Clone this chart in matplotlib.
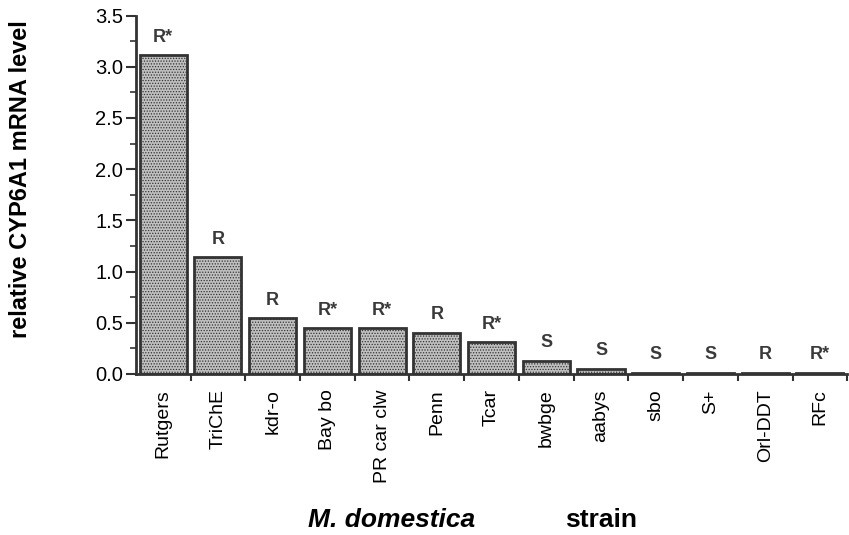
import matplotlib
matplotlib.use("Agg")
import matplotlib.pyplot as plt
from matplotlib.ticker import MultipleLocator, FixedLocator
import numpy as np

plt.rcParams['font.family'] = ['Liberation Sans', 'DejaVu Sans']
plt.rcParams['hatch.color'] = '#555555'
plt.rcParams['hatch.linewidth'] = 0.6

strains = ["Rutgers", "TriChE", "kdr-o", "Bay bo", "PR car clw", "Penn", "Tcar",
           "bwbge", "aabys", "sbo", "S+", "Orl-DDT", "RFc"]
levels = [3.11, 1.14, 0.545, 0.447, 0.447, 0.40, 0.31, 0.13, 0.052, 0.012, 0.012, 0.012, 0.012]
status = ["R*", "R", "R", "R*", "R*", "R", "R*", "S", "S", "S", "S", "R", "R*"]

fig = plt.figure(figsize=(8.49, 5.35), dpi=100)
ax = fig.add_axes([0.160, 0.301, 0.838, 0.670])

x = np.arange(len(strains))
ax.bar(x, levels, width=0.86, facecolor='#c0c0c0', edgecolor='#333333',
       linewidth=2, hatch='......')

for xi, v, s in zip(x, levels, status):
    ax.annotate(s, (xi, v), xytext=(0, 13), textcoords='offset points',
                ha='center', va='center', fontsize=13, fontweight='bold', color='#3a3a3a')

ax.set_xlim(-0.5, len(strains) - 0.5)
ax.set_ylim(0, 3.5)
ax.yaxis.set_major_locator(MultipleLocator(0.5))
ax.yaxis.set_minor_locator(MultipleLocator(0.25))
ax.yaxis.set_major_formatter(matplotlib.ticker.FormatStrFormatter('%.1f'))

ax.set_xticks(x)
ax.set_xticklabels(strains, rotation=90, fontsize=14)
ax.xaxis.set_minor_locator(FixedLocator(np.arange(len(strains)) + 0.5))
ax.tick_params(axis='x', which='major', length=0, pad=11)
ax.tick_params(axis='x', which='minor', length=5, width=1.5, color='#333333')
ax.tick_params(axis='y', which='major', length=7, width=1.5, labelsize=14.5, pad=2,
               color='#333333')
ax.tick_params(axis='y', which='minor', length=4, width=1.2, color='#333333')

for side in ['top', 'right']:
    ax.spines[side].set_visible(False)
for side in ['left', 'bottom']:
    ax.spines[side].set_linewidth(2)
    ax.spines[side].set_color('#333333')

fig.text(0.0236, 0.665, "relative CYP6A1 mRNA level", rotation=90, ha='center', va='center',
         fontsize=17, fontweight='bold')
fig.text(0.4617, 0.006, "M. domestica", ha='center', va='bottom', fontsize=19,
         fontweight='bold', fontstyle='italic')
fig.text(0.7085, 0.006, "strain", ha='center', va='bottom', fontsize=19, fontweight='bold')

fig.savefig("out.png", dpi=100)
